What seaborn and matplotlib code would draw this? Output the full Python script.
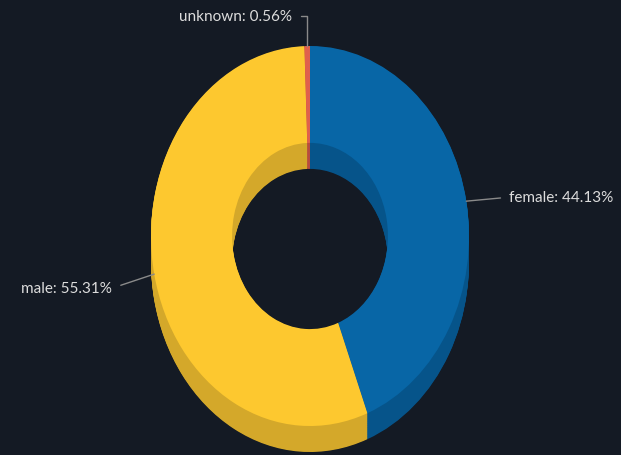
import numpy as np
import matplotlib
matplotlib.use("Agg")
import matplotlib.pyplot as plt
import seaborn as sns

# Gender split
labels = ["female", "male", "unknown"]
shares = [44.13, 55.31, 0.56]
top_colors = ["#0866a6", "#fdc82f", "#e0604c"]
side_colors = ["#06548a", "#d4a82a", "#b84c3e"]

bg = "#141a24"
sns.set_theme(style="dark", rc={"figure.facecolor": bg, "axes.facecolor": bg})
plt.rcParams['font.family'] = ['Lato', 'DejaVu Sans']

W, H = 621, 456
fig = plt.figure(figsize=(W / 100, H / 100), dpi=100)
ax = fig.add_axes([0, 0, 1, 1])

# pixel geometry of the ellipse (top face)
cx, cy = 310, 237
rx, ry = 159, 190
depth = 26 / ry
inner = 0.49

# side walls: stack darker copies of the ring downward
n_layers = 40
for k in range(n_layers, 0, -1):
    ax.pie(shares, colors=side_colors, startangle=90, counterclock=False,
           center=(0, -depth * k / n_layers), radius=1, frame=True,
           wedgeprops=dict(width=1 - inner, edgecolor="none", linewidth=0))

# top face
wedges, _ = ax.pie(shares, colors=top_colors, startangle=90, counterclock=False,
                   center=(0, 0), radius=1, frame=True,
                   wedgeprops=dict(width=1 - inner, edgecolor="none", linewidth=0))

ax.set_aspect("auto")
ax.set_xlim(-cx / rx, (W - cx) / rx)
ax.set_ylim(-(H - cy) / ry, cy / ry)
ax.set_axis_off()

# labels with leader lines
txt_kw = dict(color="#dcdcdc", fontsize=11, textcoords="offset pixels", va="center")
line_col = "#8a8a8a"
offsets = {
    "female": ((43, 4), "left", "arc3"),
    "male": ((-42, -14), "right", "arc3"),
    "unknown": ((-15, 30), "right", "angle,angleA=0,angleB=90,rad=0"),
}
cum = 0
for lab, val in zip(labels, shares):
    mid = np.deg2rad((cum + val / 2) / 100 * 360)
    cum += val
    xy = (np.sin(mid), np.cos(mid))
    off, ha, conn = offsets[lab]
    relpos = (0, 0.5) if ha == "left" else (1, 0.5)
    ax.annotate(f"{lab}: {val:.2f}%", xy=xy, xytext=off, ha=ha, **txt_kw,
                arrowprops=dict(arrowstyle="-", color=line_col, lw=1,
                                shrinkA=4, shrinkB=0, relpos=relpos,
                                connectionstyle=conn))

fig.savefig("out.png", dpi=100, facecolor=bg)
